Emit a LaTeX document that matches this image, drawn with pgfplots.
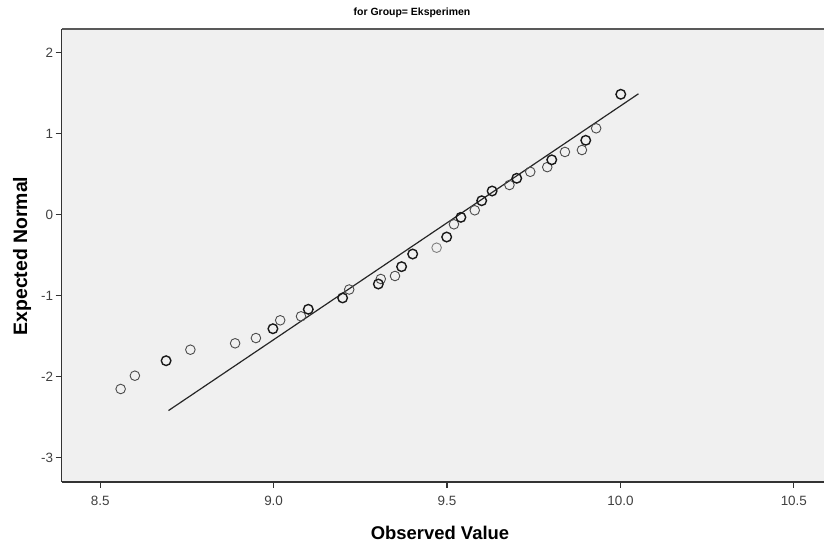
\documentclass[border=0pt]{standalone}
\usepackage{fontspec}
\setmainfont{Liberation Sans}
\usepackage{pgfplots}
\pgfplotsset{compat=1.18}

\begin{document}
\begin{tikzpicture}[x=1bp,y=1bp]
\useasboundingbox (0,0) rectangle (824,546);

\begin{axis}[
  at={(61.7bp,64bp)}, anchor=south west,
  scale only axis, width=762.3bp, height=453bp,
  xmin=8.389, xmax=10.587,
  ymin=-3.302, ymax=2.290,
  axis lines*=left,
  axis line style={black!80, line width=1.4bp},
  axis background/.style={fill=gray!12},
  xtick={8.5,9.0,9.5,10.0,10.5},
  ytick={-3,-2,-1,0,1,2},
  xticklabels={8.5,9.0,9.5,10.0,10.5},
  yticklabels={-3,-2,-1,0,1,2},
  tick align=outside,
  major tick length=6bp,
  tick style={black!80, line width=1.2bp},
  ticklabel style={font=\fontsize{13.5}{15}\selectfont, text=black!75},
  xticklabel style={yshift=-5bp},
  yticklabel style={xshift=1bp},
  clip=false,
]
  % fitted normal line
  \addplot[black!85, line width=1.2bp, no marks] coordinates {(8.697,-2.42) (10.052,1.49)};

  % single observations
  \addplot[only marks, mark=o, mark size=4.8bp,
    mark options={draw=black!70, line width=0.9bp}] coordinates {
    (8.559,-2.154) (8.600,-1.990) (8.760,-1.669) (8.889,-1.590)
    (8.949,-1.525) (9.019,-1.306) (9.079,-1.257) (9.218,-0.926)
    (9.309,-0.796) (9.350,-0.759) (9.520,-0.121) (9.580,0.052)
    (9.680,0.364) (9.740,0.527) (9.789,0.585) (9.840,0.772)
    (9.889,0.796) (9.930,1.064)
  };
  \addplot[only marks, mark=o, mark size=4.8bp,
    mark options={draw=black!50, line width=0.9bp}] coordinates {
    (9.470,-0.410)
  };
  % tied observations
  \addplot[only marks, mark=o, mark size=4.8bp,
    mark options={draw=black!90, line width=1.4bp}] coordinates {
    (8.690,-1.805) (8.998,-1.410) (9.100,-1.170) (9.199,-1.030)
    (9.302,-0.858) (9.369,-0.644) (9.401,-0.488) (9.499,-0.278)
    (9.540,-0.035) (9.600,0.170) (9.630,0.290) (9.701,0.447)
    (9.802,0.675) (9.900,0.916) (10.001,1.484)
  };

  \draw[gray!70!black, line width=2bp] (rel axis cs:0,1) -- (rel axis cs:1,1);
\end{axis}

\node[font=\fontsize{10.5}{12}\selectfont\bfseries] at (412,533) {for Group= Eksperimen};
\node[font=\fontsize{18.5}{20}\selectfont\bfseries] at (440,13) {Observed Value};
\node[font=\fontsize{19.5}{22}\selectfont\bfseries, rotate=90] at (22,290) {Expected Normal};
\end{tikzpicture}
\end{document}
